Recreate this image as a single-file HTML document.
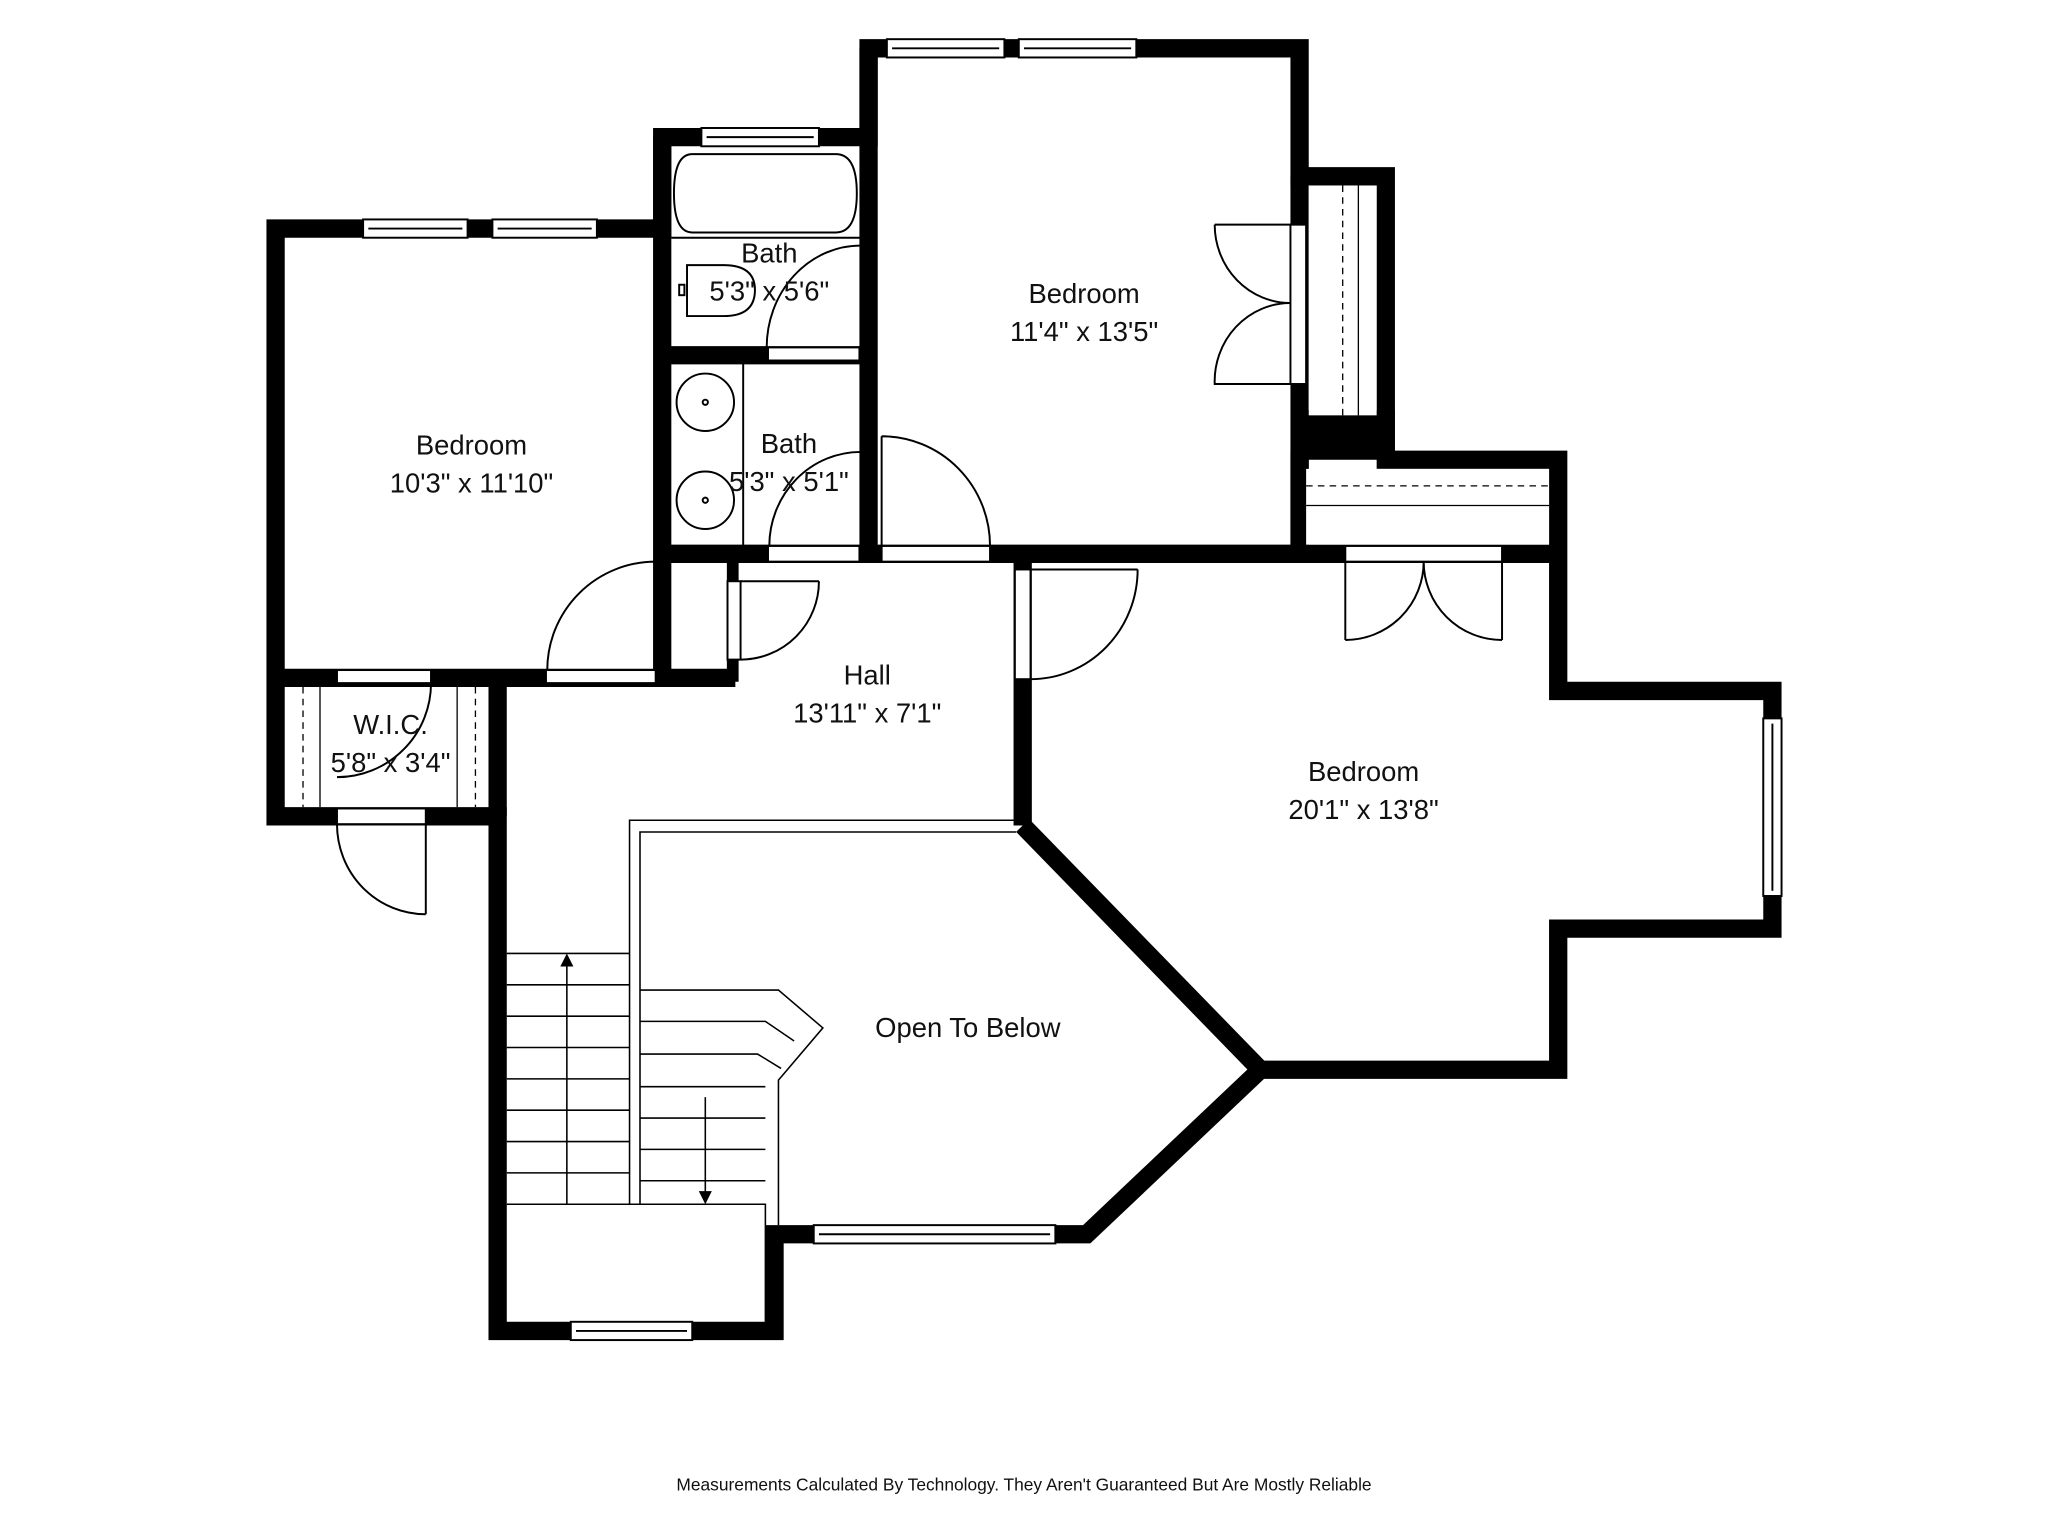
<!DOCTYPE html>
<html><head><meta charset="utf-8"><style>
html,body{margin:0;padding:0;background:#fff;}
svg{display:block;}
text{font-family:"Liberation Sans",sans-serif;fill:#111;}
</style></head><body>
<svg width="2048" height="1536" viewBox="0 0 1568 1176" xmlns="http://www.w3.org/2000/svg">
<rect width="1568" height="1176" fill="#fff"/>
<g fill="none" stroke="#000" stroke-width="14" stroke-linejoin="miter">
<path d="M211,175 H507 V105 H665 V37 H995 V135 H1061 V352 H1193 V529 H1357 V711 H1193 V819 H965 L832,945 H593 V1019 H381 V625 H211 Z"/>
<path d="M507,105 V519"/>
<path d="M211,519 H563"/>
<path d="M507,272 H665"/>
<path d="M507,424 H1193"/>
<path d="M665,37 V424"/>
<path d="M995,135 V424"/>
<path d="M381,519 V625"/>
<path d="M783,424 V632"/>
<path d="M783,632 L965,819"/>
</g>
<path d="M561,424 V522" stroke="#000" stroke-width="9" fill="none"/>
<!-- closet fills -->
<rect x="1000" y="314" width="68" height="38" fill="#000"/>
<rect x="988" y="345" width="14" height="80" fill="#000"/>
<!-- closet interiors -->
<rect x="1002" y="142" width="52" height="176" fill="#fff"/>
<line x1="1028" y1="142" x2="1028" y2="318" stroke="#000" stroke-dasharray="5,4"/>
<line x1="1040" y1="142" x2="1040" y2="318" stroke="#000"/>
<rect x="1000" y="359" width="186" height="58" fill="#fff"/>
<line x1="1000" y1="372" x2="1186" y2="372" stroke="#000" stroke-dasharray="5,4"/>
<line x1="1000" y1="387" x2="1186" y2="387" stroke="#000"/>
<!-- white openings (doors) -->
<g fill="#fff" stroke="#000" stroke-width="1.5">
<rect x="418" y="513" width="84" height="10"/>
<rect x="588" y="266" width="70" height="10"/>
<rect x="588" y="418" width="70" height="12"/>
<rect x="675" y="418" width="83" height="12"/>
<rect x="777" y="436" width="12" height="84"/>
<rect x="557" y="445" width="10" height="60"/>
<rect x="258" y="619" width="68" height="12"/>
<rect x="258" y="513" width="72" height="10"/>
<rect x="988" y="172" width="12" height="122"/>
<rect x="1030" y="418" width="120" height="12"/>
</g>
<!-- door arcs -->
<g fill="none" stroke="#000" stroke-width="1.5">
<path d="M502,430 V513 M502,430 A83,83 0 0 0 419,513"/>
<path d="M659,188 V266 M659,188 A72,78 0 0 0 587,266"/>
<path d="M659,346 V418 M659,346 A70,72 0 0 0 589,418"/>
<path d="M675,334 V418 M675,334 A83,84 0 0 1 758,418"/>
<path d="M789,436 H871 M871,436 A82,84 0 0 1 789,520"/>
<path d="M567,445 H627 M627,445 A60,60 0 0 1 567,505"/>
<path d="M326,631 V700 M258,631 A68,69 0 0 0 326,700"/>
<path d="M330,523 A72,72 0 0 1 258,595"/>
<path d="M988,172 H930 M930,172 A58,60 0 0 0 988,232 M988,232 A58,60 0 0 0 930,294 H988"/>
<path d="M1030,430 V490 M1030,490 A60,60 0 0 0 1090,430 M1150,430 V490 M1150,490 A60,60 0 0 1 1090,430"/>
</g>
<!-- windows -->
<g fill="#fff" stroke="#000" stroke-width="1.5">
<rect x="278" y="168" width="80" height="14"/><line x1="282" y1="175" x2="354" y2="175"/>
<rect x="377" y="168" width="80" height="14"/><line x1="381" y1="175" x2="453" y2="175"/>
<rect x="537" y="98" width="90" height="14"/><line x1="541" y1="105" x2="623" y2="105"/>
<rect x="679" y="30" width="90" height="14"/><line x1="683" y1="37" x2="765" y2="37"/>
<rect x="780" y="30" width="90" height="14"/><line x1="784" y1="37" x2="866" y2="37"/>
<rect x="1350" y="550" width="14" height="136"/><line x1="1357" y1="554" x2="1357" y2="682"/>
<rect x="623" y="938" width="185" height="14"/><line x1="627" y1="945" x2="804" y2="945"/>
<rect x="437" y="1012" width="93" height="14"/><line x1="441" y1="1019" x2="526" y2="1019"/>
</g>
<!-- WIC shelves -->
<g stroke="#000" stroke-width="1">
<line x1="232" y1="526" x2="232" y2="618" stroke-dasharray="5,4"/>
<line x1="245" y1="526" x2="245" y2="618"/>
<line x1="350" y1="526" x2="350" y2="618"/>
<line x1="364" y1="526" x2="364" y2="618" stroke-dasharray="5,4"/>
</g>
<!-- bath fixtures -->
<g fill="none" stroke="#000" stroke-width="1.5">
<path d="M530,118 H640 Q656,118 656,148 Q656,178 640,178 H530 Q516,178 516,148 Q516,118 530,118 Z"/>
<path d="M514,182 H660"/>
<path d="M526,203 H554 Q578,203 578,222 Q578,242 554,242 H526 Z"/>
<rect x="520" y="218" width="4" height="8"/>
<circle cx="540" cy="308" r="22"/><circle cx="540" cy="383" r="22"/>
<circle cx="540" cy="308" r="2"/><circle cx="540" cy="383" r="2"/>
<line x1="569" y1="278" x2="569" y2="418"/>
</g>
<!-- stairs -->
<g fill="none" stroke="#000" stroke-width="1.2">
<path d="M482,922 V628 H778"/><path d="M490,922 V637 H778"/>
<path d="M388,922 H586 V1012"/>
<path d="M388,730 H482"/>
<path d="M388,754 H482 M388,778 H482 M388,802 H482 M388,826 H482 M388,850 H482 M388,874 H482 M388,898 H482"/>
<path d="M434,922 V740"/>
<path d="M490,758 H596 L630,787 L596,827 V938"/>
<path d="M490,782 H586 L608,797 M490,807 H580 L598,818 M490,832 H586"/>
<path d="M490,856 H586 M490,880 H586 M490,904 H586"/>
<path d="M540,840 V915"/>
</g>
<polygon points="434,730 429,740 439,740" fill="#000"/>
<polygon points="540,922 535,912 545,912" fill="#000"/>
<!-- labels -->
<g font-size="21" text-anchor="middle">
<text x="361" y="348">Bedroom</text><text x="361" y="377">10'3" x 11'10"</text>
<text x="589" y="201">Bath</text><text x="589" y="230">5'3" x 5'6"</text>
<text x="604" y="347">Bath</text><text x="604" y="376">5'3" x 5'1"</text>
<text x="830" y="232">Bedroom</text><text x="830" y="261">11'4" x 13'5"</text>
<text x="664" y="524">Hall</text><text x="664" y="553">13'11" x 7'1"</text>
<text x="299" y="562">W.I.C.</text><text x="299" y="591">5'8" x 3'4"</text>
<text x="1044" y="598">Bedroom</text><text x="1044" y="627">20'1" x 13'8"</text>
<text x="741" y="794">Open To Below</text>
<text x="784" y="1141" font-size="13.3">Measurements Calculated By Technology. They Aren't Guaranteed But Are Mostly Reliable</text>
</g>
</svg>
</body></html>
